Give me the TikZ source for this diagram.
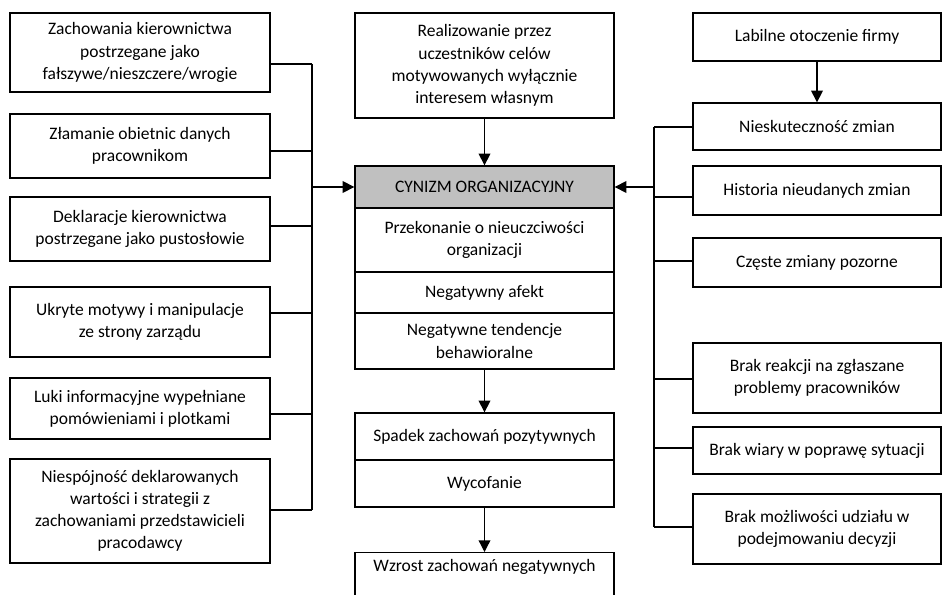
\documentclass[tikz,border=0pt]{standalone}
\usepackage{fontspec}
\setmainfont{Carlito}
\usetikzlibrary{arrows.meta}

\definecolor{cyngray}{RGB}{192,192,192}
\tikzset{
  box/.style={draw, line width=0.8pt, fill=white, align=center, inner sep=0pt,
    font=\fontsize{10.5}{13.3}\selectfont},
  wh/.style 2 args={minimum width=#1*0.6pt, minimum height=#2*0.6pt},
  link/.style={line width=0.8pt},
  arr/.style={line width=0.8pt, -{Triangle[length=7pt,width=7pt]}}
}

\begin{document}
\begin{tikzpicture}[x=0.6pt,y=-0.6pt]
            \useasboundingbox (0,0) rectangle (942,594);

            % left column
            \node[box, wh={260}{79}] (l1) at (140,52.5) {Zachowania kierownictwa\\postrzegane jako\\fałszywe/nieszczere/wrogie};
            \node[box, wh={260}{64}] (l2) at (140,146) {Złamanie obietnic danych\\pracownikom};
            \node[box, wh={260}{64}] (l3) at (140,229) {Deklaracje kierownictwa\\postrzegane jako pustosłowie};
            \node[box, wh={260}{70}] (l4) at (140,322) {Ukryte motywy i manipulacje\\ze strony zarządu};
            \node[box, wh={260}{61}] (l5) at (140,408.5) {Luki informacyjne wypełniane\\pomówieniami i plotkami};
            \node[box, wh={260}{104}] (l6) at (140,511) {Niespójność deklarowanych\\wartości i strategii z\\zachowaniami przedstawicieli\\pracodawcy};

            % middle column
            \node[box, wh={259}{105}] (self) at (484.5,65.5) {Realizowanie przez\\uczestników celów\\motywowanych wyłącznie\\interesem własnym};
            \node[box, wh={259}{42}, fill=cyngray] (cyn) at (484.5,187) {CYNIZM ORGANIZACYJNY};
            \node[box, wh={259}{64}] (conv) at (484.5,240) {Przekonanie o nieuczciwości\\organizacji};
            \node[box, wh={259}{41}] (aff) at (484.5,292.5) {Negatywny afekt};
            \node[box, wh={259}{56}] (beh) at (484.5,341) {Negatywne tendencje\\behawioralne};
            \node[box, wh={259}{47}] (drop) at (484.5,436.5) {Spadek zachowań pozytywnych};
            \node[box, wh={259}{47}] (wdr) at (484.5,483.5) {Wycofanie};
            \node[box, minimum width=259*0.6pt, anchor=north, text height=11pt, text depth=30pt] (rise) at (484.5,552) {Wzrost zachowań negatywnych};

            % right column
            \node[box, wh={248}{48}] (r0) at (817,37) {Labilne otoczenie firmy};
            \node[box, wh={248}{47}] (r1) at (817,126.5) {Nieskuteczność zmian};
            \node[box, wh={248}{49}] (r2) at (817,190.5) {Historia nieudanych zmian};
            \node[box, wh={248}{49}] (r3) at (817,262.5) {Częste zmiany pozorne};
            \node[box, wh={248}{70}] (r4) at (817,378) {Brak reakcji na zgłaszane\\problemy pracowników};
            \node[box, wh={248}{47}] (r5) at (817,450.5) {Brak wiary w poprawę sytuacji};
            \node[box, wh={248}{70}] (r6) at (817,529) {Brak możliwości udziału w\\podejmowaniu decyzji};

            % left bus
            \coordinate (lb1) at (312,64);
            \coordinate (lb2) at (312,151);
            \coordinate (lb3) at (312,226);
            \coordinate (lb4) at (312,313);
            \coordinate (lb5) at (312,414);
            \coordinate (lb6) at (312,510);
            \coordinate (lin) at (312,187);

            \draw[link] (lb1)--(lb6);
            \foreach \i in {1,...,6}
              \draw[link] (lb\i) -- (lb\i -| l\i.east);
            \draw[arr] (lin) -- (cyn.west);

            % right bus
            \coordinate (rb1) at (654,127);
            \coordinate (rb2) at (654,197);
            \coordinate (rb3) at (654,261);
            \coordinate (rb4) at (654,379);
            \coordinate (rb5) at (654,448);
            \coordinate (rb6) at (654,527);
            \coordinate (rin) at (654,187);

            \draw[link] (rb1)--(rb6);
            \foreach \i in {1,...,6}
              \draw[link] (rb\i) -- (rb\i -| r\i.west);
            \draw[arr] (rin) -- (cyn.east);

            \draw[arr] (self) -- (cyn);
            \draw[arr] (beh) -- (drop);
            \draw[arr] (wdr) -- (rise);
            \draw[arr] (r0) -- (r1);
        \end{tikzpicture}
\end{document}
